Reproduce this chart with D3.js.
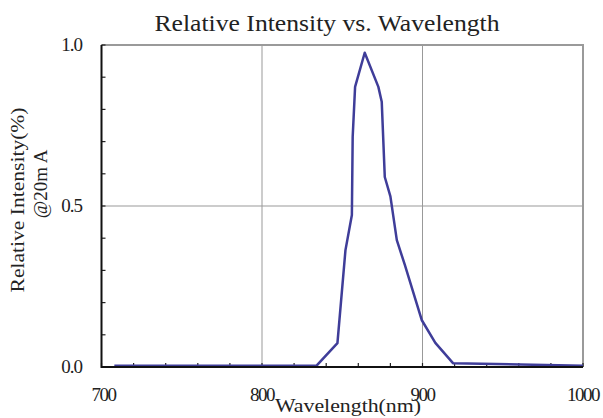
<!DOCTYPE html>
<html>
<head>
<meta charset="utf-8">
<script src="https://cdn.jsdelivr.net/npm/d3@7"></script>
<style>
  body { margin: 0; background: #fff; }
  text { font-family: "Liberation Serif", "Times New Roman", serif; fill: #222; }
</style>
</head>
<body>
<div id="chart"></div>
<script>
// spectrum
var wavelength = [708, 834, 847, 852, 856, 856.5, 858, 864, 872.5, 874.6, 876.5, 880, 884, 889, 899.5, 908, 919, 1000];
var intensity = [0.004, 0.004, 0.074, 0.363, 0.472, 0.715, 0.87, 0.976, 0.87, 0.824, 0.59, 0.53, 0.394, 0.317, 0.146, 0.075, 0.012, 0.004];
var xTicks = [700, 800, 900, 1000];
var yTicks = [0, 0.5, 1];

function drawChart() {
  var width = 603, height = 418;
  var left = 101.5, right = 583, top = 45, bottom = 367;

  var svg = d3.select("#chart").append("svg")
    .attr("width", width)
    .attr("height", height);

  var x = d3.scaleLinear().domain([700, 1000]).range([left, right]);
  var y = d3.scaleLinear().domain([0, 1]).range([bottom, top]);

  // grid lines
  svg.selectAll(".vgrid")
    .data([800, 900])
    .enter().append("line")
    .attr("x1", d => x(d)).attr("x2", d => x(d))
    .attr("y1", top).attr("y2", bottom)
    .attr("stroke", "#999").attr("stroke-width", 1);

  svg.append("line")
    .attr("x1", left).attr("x2", right)
    .attr("y1", y(0.5)).attr("y2", y(0.5))
    .attr("stroke", "#999").attr("stroke-width", 1);

  // top and right frame (gray)
  svg.append("path")
    .attr("d", "M" + left + "," + top + "H" + right + "V" + bottom)
    .attr("fill", "none").attr("stroke", "#9a9a9a").attr("stroke-width", 2);

  // inner minor ticks
  svg.selectAll(".xminor")
    .data(d3.range(700, 1001, 20))
    .enter().append("line")
    .attr("x1", d => x(d)).attr("x2", d => x(d))
    .attr("y1", bottom).attr("y2", bottom - 4)
    .attr("stroke", "#222").attr("stroke-width", 1.2);

  svg.selectAll(".yminor")
    .data(d3.range(0, 11).map(d => d / 10))
    .enter().append("line")
    .attr("x1", left).attr("x2", left + 4)
    .attr("y1", d => y(d)).attr("y2", d => y(d))
    .attr("stroke", "#222").attr("stroke-width", 1.2);

  // the curve
  var line = d3.line()
    .x((d, i) => x(wavelength[i]))
    .y(d => y(d));

  svg.append("path")
    .datum(intensity)
    .attr("d", line)
    .attr("fill", "none")
    .attr("stroke", "#3f3d99")
    .attr("stroke-width", 2.5)
    .attr("stroke-linejoin", "round");

  // left and bottom axis lines (black)
  svg.append("path")
    .attr("d", "M" + left + "," + top + "V" + bottom + "H" + right)
    .attr("fill", "none").attr("stroke", "#111").attr("stroke-width", 2);

  // tick labels
  svg.selectAll(".ylab")
    .data(yTicks)
    .enter().append("text")
    .attr("x", 82)
    .attr("y", d => y(d) + 6)
    .attr("text-anchor", "end")
    .style("font-size", "19px")
    .style("letter-spacing", "-1px")
    .text(d => d.toFixed(1));

  svg.selectAll(".xlab")
    .data(xTicks)
    .enter().append("text")
    .attr("x", d => x(d) + (d == 700 ? 2 : 0))
    .attr("y", 401)
    .attr("text-anchor", "middle")
    .style("font-size", "19px")
    .style("letter-spacing", "-1.5px")
    .text(d => d);

  // titles
  svg.append("text")
    .attr("x", 327)
    .attr("y", 31)
    .attr("text-anchor", "middle")
    .attr("textLength", 345)
    .attr("lengthAdjust", "spacingAndGlyphs")
    .style("font-size", "23px")
    .text("Relative Intensity vs. Wavelength");

  svg.append("text")
    .attr("x", 348)
    .attr("y", 412)
    .attr("text-anchor", "middle")
    .attr("textLength", 146)
    .attr("lengthAdjust", "spacingAndGlyphs")
    .style("font-size", "18px")
    .text("Wavelength(nm)");

  svg.append("text")
    .attr("transform", "translate(24,200) rotate(-90)")
    .attr("text-anchor", "middle")
    .attr("textLength", 185)
    .attr("lengthAdjust", "spacingAndGlyphs")
    .style("font-size", "19px")
    .text("Relative Intensity(%)");

  svg.append("text")
    .attr("transform", "translate(47,184) rotate(-90)")
    .attr("text-anchor", "middle")
    .style("font-size", "19px")
    .text("@20m A");
}

drawChart();
</script>
</body>
</html>
